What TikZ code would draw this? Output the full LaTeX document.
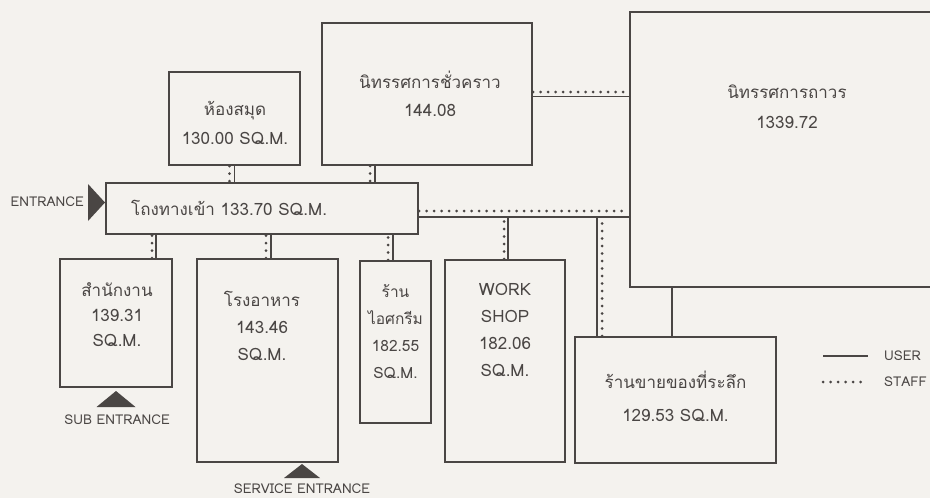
\documentclass[tikz,border=0pt]{standalone}
\usepackage{fontspec}
\newfontfamily\thaifont[Script=Thai]{Loma}
\usetikzlibrary{positioning}
\definecolor{ink}{HTML}{4A4644}
\definecolor{paper}{HTML}{F4F2EE}

\begin{document}
\begin{tikzpicture}[x=1pt, y=-1pt]
    \tikzset{
      room/.style={rectangle, draw=ink, line width=2pt, inner sep=0pt},
      lbl/.style={text=ink, align=center, inner sep=0pt,
        font=\thaifont\fontsize{17}{#1}\selectfont},
      lbl/.default=27,
      tag/.style={text=ink, inner sep=0pt, font=\thaifont\fontsize{13.5}{15}\selectfont},
      user/.style={draw=ink, line width=1.6pt},
      staff/.style={draw=ink, line width=3pt, line cap=round, dash pattern=on 0pt off 7.5pt},
      doorway/.style={fill=ink}
    }

    % Paper
    \fill[paper] (0,0) rectangle (930,498);
    \useasboundingbox (0,0) rectangle (930,498);

    % Rooms
    \node[room, minimum width=131pt, minimum height=93pt] (library) at (234.5,118.5) {};
    \node[room, minimum width=210pt, minimum height=142pt] (tempex) at (427,94) {};
    \node[room, minimum width=314pt, minimum height=275pt] (permex) at (787,149.5) {};
    \node[room, minimum width=312pt, minimum height=51pt] (lobby) at (262,208.5) {};
    \node[room, minimum width=112pt, minimum height=128pt] (office) at (116,323) {};
    \node[room, minimum width=141pt, minimum height=203pt] (canteen) at (267.5,360.5) {};
    \node[room, minimum width=71pt, minimum height=162pt] (icecream) at (395.5,342) {};
    \node[room, minimum width=120pt, minimum height=202pt] (workshop) at (505,361) {};
    \node[room, minimum width=201pt, minimum height=126pt] (souvenir) at (675.5,400) {};

    % Room names
    \node[lbl=29] (library-t) at (235,122.5) {ห้องสมุด\\130.00 SQ.M.};
    \node[lbl=28] (tempex-t) at (430,94) {นิทรรศการชั่วคราว\\144.08};
    \node[lbl=30] (permex-t) at (787,107) {นิทรรศการถาวร\\1339.72};
    \node[lbl, anchor=west] (lobby-t) at (131,208) {โถงทางเข้า 133.70 SQ.M.};
    \node[lbl=25] (office-t) at (117,315) {สำนักงาน\\139.31\\SQ.M.};
    \node[lbl] (canteen-t) at (262,325.5) {โรงอาหาร\\143.46\\SQ.M.};
    \node[lbl, font=\thaifont\fontsize{15.5}{27}\selectfont] (icecream-t) at (395.5,331.5) {ร้าน\\ไอศกรีม\\182.55\\SQ.M.};
    \node[lbl] (workshop-t) at (505,329.5) {WORK\\SHOP\\182.06\\SQ.M.};
    \node[lbl=33] (souvenir-t) at (675.5,396.5) {ร้านขายของที่ระลึก\\129.53 SQ.M.};

    % Links to the lobby
    \draw[user] (library.south) -- (library.south |- lobby.north);
    \draw[staff] ([xshift=-5pt]library.south) -- ([xshift=-5pt]library.south |- lobby.north);
    \draw[user] ([xshift=-52pt]tempex.south) -- ([xshift=-52pt]tempex.south |- lobby.north);
    \draw[staff] ([xshift=-57pt]tempex.south) -- ([xshift=-57pt]tempex.south |- lobby.north);
    \draw[user] ([xshift=40pt]office.north) -- ([xshift=40pt]office.north |- lobby.south);
    \draw[staff] ([xshift=36pt]office.north) -- ([xshift=36pt]office.north |- lobby.south);
    \draw[user] ([xshift=3.5pt]canteen.north) -- ([xshift=3.5pt]canteen.north |- lobby.south);
    \draw[staff] ([xshift=-1.5pt]canteen.north) -- ([xshift=-1.5pt]canteen.north |- lobby.south);
    \draw[user] ([xshift=-2.5pt]icecream.north) -- ([xshift=-2.5pt]icecream.north |- lobby.south);
    \draw[staff] ([xshift=-7.5pt]icecream.north) -- ([xshift=-7.5pt]icecream.north |- lobby.south);

    % Corridor to the permanent hall
    \coordinate (corridor) at ([yshift=-8.5pt]lobby.east);
    \draw[user] (corridor) -- (corridor -| permex.west);
    \draw[staff] ([yshift=-2.5pt]lobby.east) -- ([yshift=-2.5pt]lobby.east -| permex.west);
    \draw[user] ([xshift=3pt]workshop.north) -- ([xshift=3pt]workshop.north |- corridor);
    \draw[staff] ([xshift=-1pt]workshop.north) -- ([xshift=-1pt]workshop.north |- corridor);
    \draw[user] ([xshift=-78.5pt]souvenir.north) -- ([xshift=-78.5pt]souvenir.north |- corridor);
    \draw[staff] ([xshift=-73.5pt]souvenir.north) -- ([xshift=-73.5pt]souvenir.north |- corridor);
    \draw[user] ([xshift=-3.5pt]souvenir.north) -- ([xshift=-3.5pt]souvenir.north |- permex.south);

    % Temporary to permanent hall
    \draw[user] ([yshift=-2.5pt]tempex.east) -- ([yshift=-2.5pt]tempex.east -| permex.west);
    \draw[staff] ([yshift=2pt]tempex.east) -- ([yshift=2pt]tempex.east -| permex.west);

    % Entrances
    \fill[doorway] ([yshift=6pt]lobby.west) -- ++(-17,-18.5) -- ++(0,37) -- cycle;
    \node[tag, anchor=east] (entrance) at (84,202) {ENTRANCE};
    \fill[doorway] ([yshift=-3pt]office.south) -- ++(-19.5,16) -- ++(39,0) -- cycle;
    \node[tag] (subentrance) at (117,420) {SUB ENTRANCE};
    \fill[doorway] ([xshift=34.5pt,yshift=-1pt]canteen.south) -- ++(-18,14) -- ++(36,0) -- cycle;
    \node[tag] (serviceentrance) at (302,489) {SERVICE ENTRANCE};

    % Key
    \node[tag, anchor=west] (userkey) at (884,356) {USER};
    \node[tag, anchor=west] (staffkey) at (884,382) {STAFF};
    \draw[user] ([xshift=-61pt]userkey.west) -- ([xshift=-16pt]userkey.west);
    \draw[staff] ([xshift=-61pt]staffkey.west) -- ([xshift=-16pt]staffkey.west);
  \end{tikzpicture}
\end{document}
